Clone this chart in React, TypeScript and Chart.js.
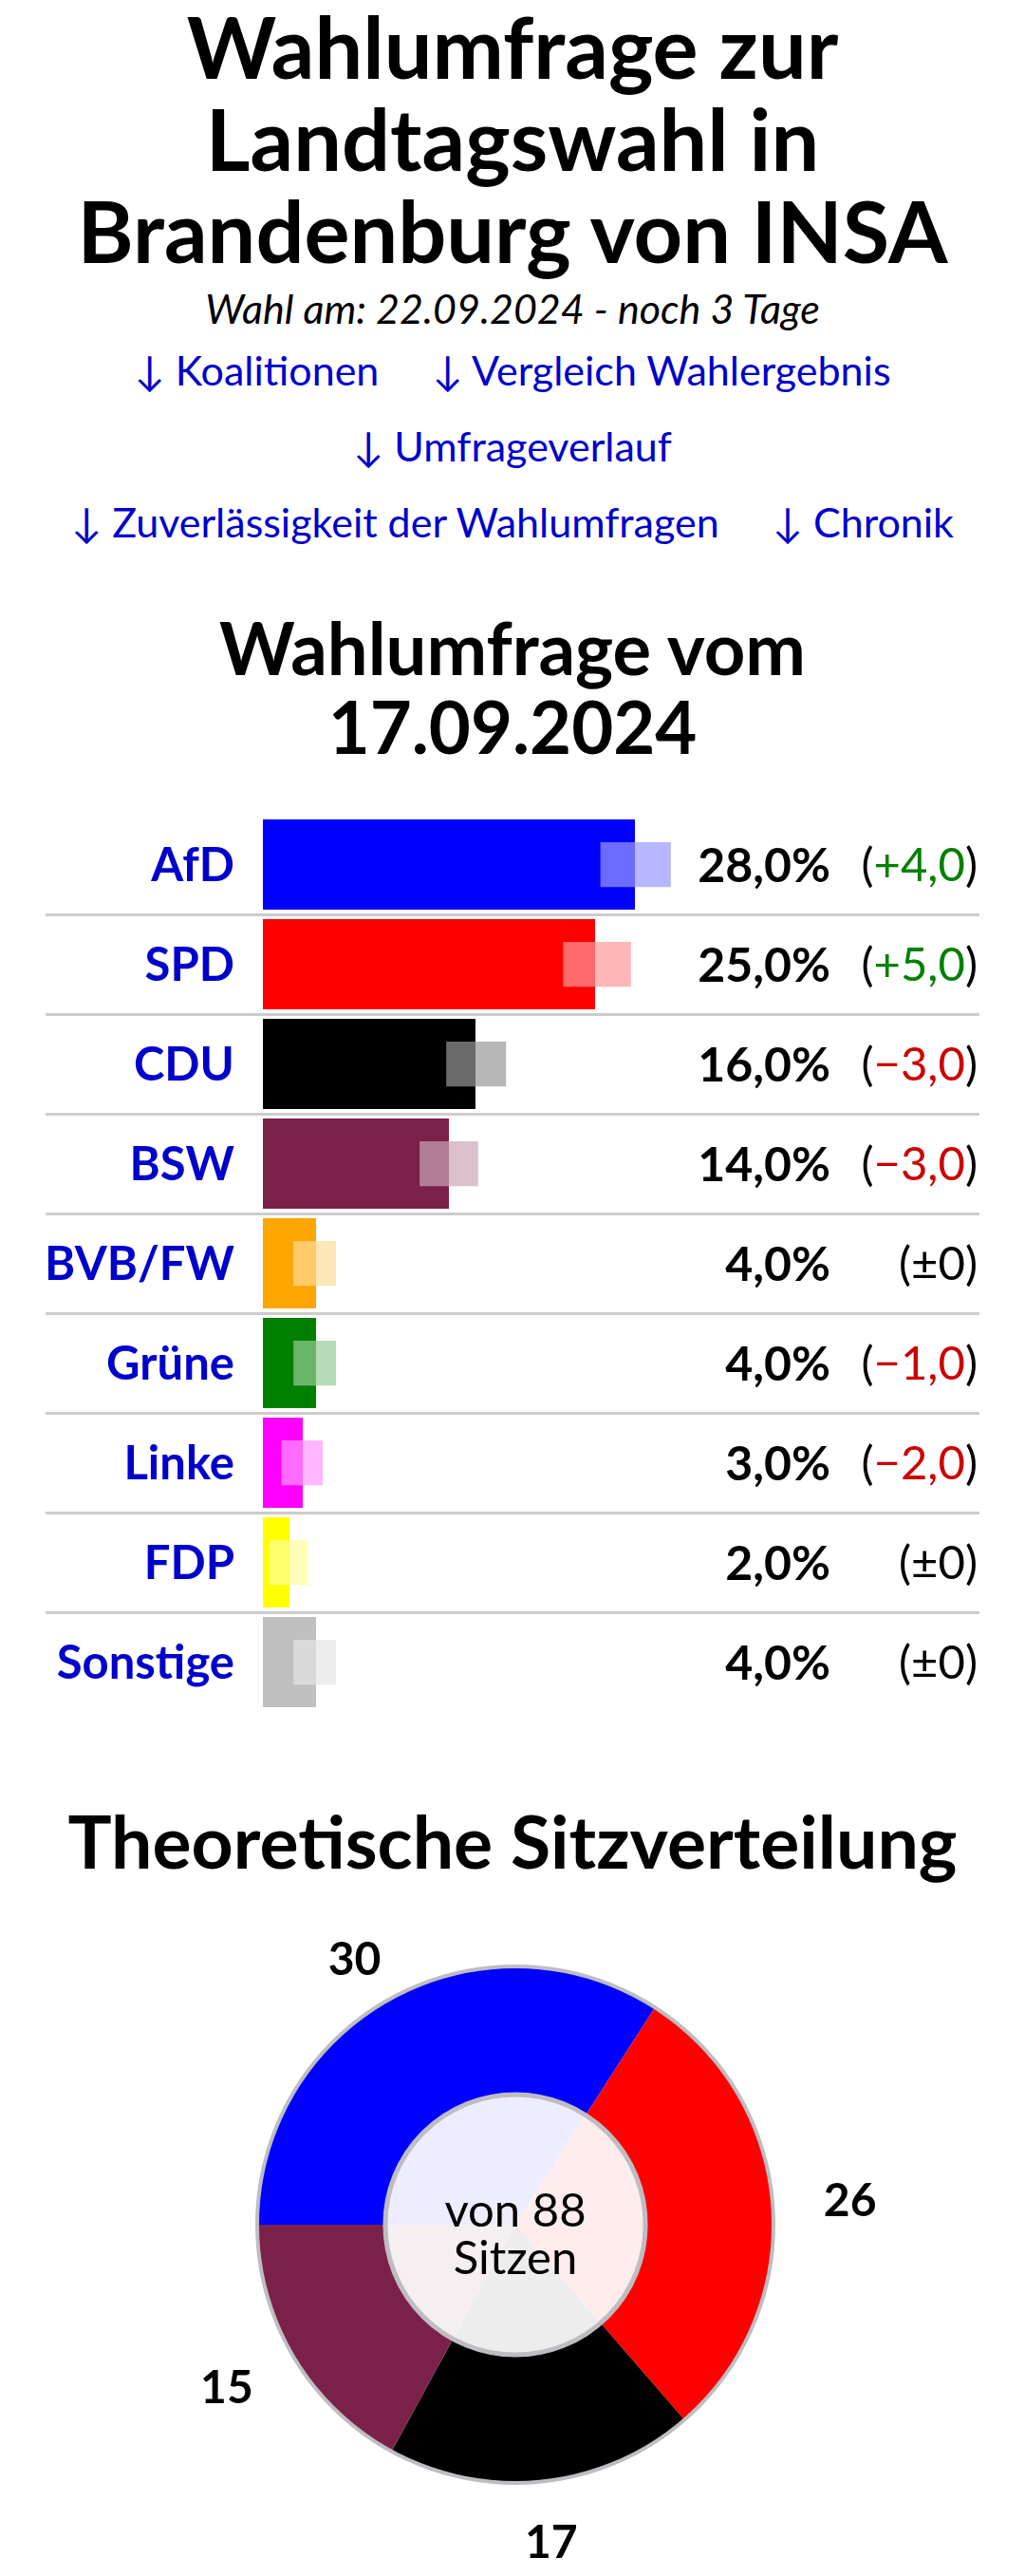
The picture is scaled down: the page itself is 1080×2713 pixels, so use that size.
import React, { useEffect, useRef } from "react";
import { Chart, registerables } from "chart.js";

Chart.register(...registerables);

// ---------- data ----------
const parties = ["AfD", "SPD", "CDU", "BSW", "BVB/FW", "Grüne", "Linke", "FDP", "Sonstige"];
const shares = [28, 25, 16, 14, 4, 4, 3, 2, 4];
const changes = [4, 5, -3, -3, 0, -1, -2, 0, 0];
const marginLow = [25.4, 22.6, 13.8, 11.8, 2.3, 2.3, 1.4, 0.5, 2.3];
const marginHigh = [30.7, 27.7, 18.3, 16.2, 5.5, 5.5, 4.5, 3.4, 5.5];
const partyColors = ["#0000ff", "#ff0000", "#000000", "#7b2149", "#ffa500", "#008000", "#ff00ff", "#ffff00", "#c0c0c0"];

const seatParties = ["AfD", "SPD", "CDU", "BSW"];
const seats = [30, 26, 17, 15];
const seatColors = ["#0000ff", "#ff0000", "#000000", "#7b2149"];
const totalSeats = 88;

const FONT = "Lato, 'Noto Sans', sans-serif";
const LINK = "#0000cc";

function overlayColor(hex: string): string {
  const r = parseInt(hex.slice(1, 3), 16);
  const g = parseInt(hex.slice(3, 5), 16);
  const b = parseInt(hex.slice(5, 7), 16);
  const m = (c: number) => Math.round(c * 0.4 + 255 * 0.6);
  return `rgba(${m(r)},${m(g)},${m(b)},0.7)`;
}

function fmtShare(v: number): string {
  return v.toFixed(1).replace(".", ",") + "%";
}
function fmtChange(v: number): string {
  if (v === 0) return "±0";
  const s = Math.abs(v).toFixed(1).replace(".", ",");
  return (v > 0 ? "+" : "\u2212") + s;
}

const barPlugin = {
  id: "barDecor",
  beforeDatasetsDraw(chart: any) {
    const { ctx, scales } = chart;
    const y = scales.y;
    ctx.save();
    ctx.strokeStyle = "#cccccc";
    ctx.lineWidth = 3;
    for (let i = 0; i < parties.length - 1; i++) {
      const yy = Math.round((y.getPixelForValue(i) + y.getPixelForValue(i + 1)) / 2) + 0.5;
      ctx.beginPath();
      ctx.moveTo(48, yy);
      ctx.lineTo(1032, yy);
      ctx.stroke();
    }
    ctx.restore();
  },
  afterDatasetsDraw(chart: any) {
    const { ctx, scales, chartArea } = chart;
    const y = scales.y;
    ctx.save();
    ctx.textBaseline = "middle";
    const pctRight = chartArea.right + 38;
    const chgRight = 1030;
    for (let i = 0; i < parties.length; i++) {
      const yy = y.getPixelForValue(i) + 2;
      // party label
      ctx.font = `bold 49px ${FONT}`;
      ctx.fillStyle = LINK;
      ctx.textAlign = "right";
      ctx.fillText(parties[i], chartArea.left - 30, yy);

      ctx.font = `bold 50px ${FONT}`;
      ctx.fillStyle = "#000";
      ctx.fillText(fmtShare(shares[i]), pctRight, yy);

      ctx.font = `49px ${FONT}`;
      const txt = fmtChange(changes[i]);
      let x = chgRight;
      ctx.fillStyle = "#000";
      ctx.fillText(")", x, yy);
      x -= ctx.measureText(")").width;
      ctx.fillStyle = changes[i] > 0 ? "#008000" : changes[i] < 0 ? "#cc0000" : "#000";
      ctx.fillText(txt, x, yy);
      x -= ctx.measureText(txt).width;
      ctx.fillStyle = "#000";
      ctx.fillText("(", x, yy);
    }
    ctx.restore();
  },
};

const piePlugin = {
  id: "pieDecor",
  afterDatasetsDraw(chart: any) {
    const { ctx } = chart;
    const meta = chart.getDatasetMeta(0);
    const arcs = meta.data;
    if (!arcs.length) return;
    const cx = arcs[0].x;
    const cy = arcs[0].y;
    const R = arcs[0].outerRadius;
    ctx.save();
    // outer ring
    ctx.strokeStyle = "#bdbdc2";
    ctx.lineWidth = 4;
    ctx.beginPath();
    ctx.arc(cx, cy, R, 0, Math.PI * 2);
    ctx.stroke();
    // inner disc
    const r = R * 0.504;
    ctx.fillStyle = "rgba(255,255,255,0.93)";
    ctx.beginPath();
    ctx.arc(cx, cy, r, 0, Math.PI * 2);
    ctx.fill();
    ctx.lineWidth = 5;
    ctx.strokeStyle = "#bdbdc2";
    ctx.stroke();
    // center text
    ctx.fillStyle = "#000";
    ctx.textAlign = "center";
    ctx.textBaseline = "middle";
    ctx.font = `49px ${FONT}`;
    ctx.fillText(`von ${totalSeats}`, cx, cy - 14);
    ctx.fillText("Sitzen", cx, cy + 36);
    // labels
    ctx.font = `bold 48px ${FONT}`;
    arcs.forEach((a: any, i: number) => {
      const mid = (a.startAngle + a.endAngle) / 2;
      const lx = cx + Math.cos(mid) * R * 1.3;
      const ly = Math.max(cy + Math.sin(mid) * R * 1.24, cy - R - 6);
      ctx.fillText(String(seats[i]), lx, ly);
    });
    ctx.restore();
  },
};

function BarChart() {
  const ref = useRef<HTMLCanvasElement>(null);
  useEffect(() => {
    if (!ref.current) return;
    const chart = new Chart(ref.current, {
      type: "bar",
      data: {
        labels: parties,
        datasets: [
          {
            label: "Fehlerbereich",
            data: parties.map((_, i) => [marginLow[i], marginHigh[i]]) as any,
            backgroundColor: partyColors.map(overlayColor),
            borderWidth: 0,
            barPercentage: 0.45,
            categoryPercentage: 1,
            grouped: false,
            order: 0,
          } as any,
          {
            label: "Umfrage",
            data: shares,
            backgroundColor: partyColors,
            borderWidth: 0,
            barPercentage: 0.905,
            categoryPercentage: 1,
            grouped: false,
            order: 1,
          } as any,
        ],
      },
      options: {
        indexAxis: "y",
        responsive: false,
        maintainAspectRatio: false,
        animation: false,
        layout: { padding: { top: 8, bottom: 7, right: 243, left: 277 } },
        plugins: { legend: { display: false }, tooltip: { enabled: false }, title: { display: false } },
        scales: {
          x: { display: false, min: 0, max: 40 },
          y: { display: false },
        },
      },
      plugins: [barPlugin],
    });
    return () => chart.destroy();
  }, []);
  return <canvas ref={ref} width={1080} height={960} style={{ display: "block", width: 1080, height: 960 }} />;
}

function SeatChart() {
  const ref = useRef<HTMLCanvasElement>(null);
  useEffect(() => {
    if (!ref.current) return;
    const chart = new Chart(ref.current, {
      type: "pie",
      data: {
        labels: seatParties,
        datasets: [{ data: seats, backgroundColor: seatColors, borderWidth: 0 }],
      },
      options: {
        responsive: false,
        maintainAspectRatio: false,
        animation: false,
        rotation: -90,
        layout: { padding: { left: 271, right: 265, top: 71, bottom: 98 } },
        plugins: { legend: { display: false }, tooltip: { enabled: false } },
      },
      plugins: [piePlugin],
    });
    return () => chart.destroy();
  }, []);
  return <canvas ref={ref} width={1080} height={713} style={{ display: "block", width: 1080, height: 713 }} />;
}

const linkStyle: React.CSSProperties = { color: LINK, textDecoration: "none", whiteSpace: "nowrap" };

export default function App() {
  useEffect(() => {
    document.body.style.margin = "0";
    document.body.style.background = "#fff";
  }, []);
  return (
    <div style={{ width: 1080, fontFamily: FONT, color: "#000", background: "#fff" }}>
      <h1 style={{ margin: 0, fontSize: 90, lineHeight: "97px", fontWeight: 700, textAlign: "center" }}>
        Wahlumfrage zur
        <br />
        Landtagswahl in
        <br />
        Brandenburg von INSA
      </h1>
      <div style={{ marginTop: 9, fontSize: 43, lineHeight: "50px", fontStyle: "italic", textAlign: "center" }}>
        Wahl am: 22.09.2024 - noch 3 Tage
      </div>
      <div style={{ fontSize: 43, lineHeight: "80px", textAlign: "center" }}>
        <div>
          <span style={linkStyle}>↓ Koalitionen</span>
          <span style={{ display: "inline-block", width: 56 }} />
          <span style={linkStyle}>↓ Vergleich Wahlergebnis</span>
        </div>
        <div>
          <span style={linkStyle}>↓ Umfrageverlauf</span>
        </div>
        <div>
          <span style={linkStyle}>↓ Zuverlässigkeit der Wahlumfragen</span>
          <span style={{ display: "inline-block", width: 56 }} />
          <span style={linkStyle}>↓ Chronik</span>
        </div>
      </div>
      <h2 style={{ margin: "50px 0 0 0", fontSize: 76, lineHeight: "83px", fontWeight: 700, textAlign: "center" }}>
        Wahlumfrage vom
        <br />
        17.09.2024
      </h2>
      <div style={{ marginTop: 44 }}>
        <BarChart />
      </div>
      <h2 style={{ margin: "87px 0 0 0", fontSize: 77, lineHeight: "83px", fontWeight: 700, textAlign: "center" }}>
        Theoretische Sitzverteilung
      </h2>
      <div style={{ marginTop: 20 }}>
        <SeatChart />
      </div>
    </div>
  );
}
